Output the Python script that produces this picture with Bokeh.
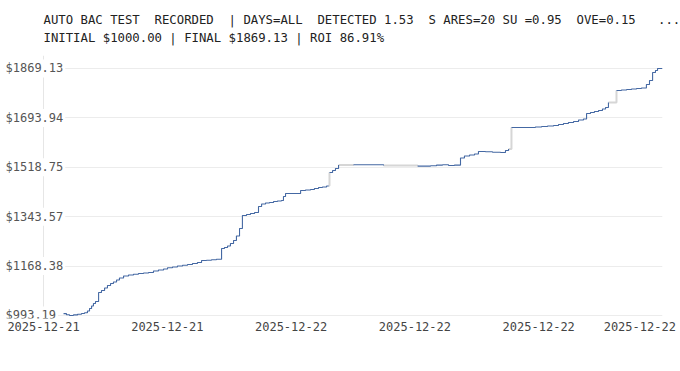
import numpy as np
from bokeh.plotting import figure
from bokeh.models import Range1d, FixedTicker, Title, ColumnDataSource
from bokeh.core.properties import value
from bokeh.embed import file_html
from bokeh.resources import INLINE

title_line1 = "AUTO BAC TEST  RECORDED  | DAYS=ALL  DETECTED 1.53  S ARES=20 SU =0.95  OVE=0.15   ..."
title_line2 = "INITIAL $1000.00 | FINAL $1869.13 | ROI 86.91%"

# hours since 2025-12-21 12:00
hours = [0.97, 1.11, 1.26, 1.45, 1.65, 1.84, 1.99, 2.13, 2.23, 2.33, 2.42, 2.52, 2.67,
         2.81, 2.96, 3.10, 3.25, 3.39, 3.54, 3.68, 3.88, 4.12, 4.36, 4.60, 4.85, 5.09,
         5.33, 5.57, 5.82, 6.01, 6.25, 6.49, 6.74, 6.98, 7.22, 7.46, 7.66, 7.90, 8.14,
         8.38, 8.63, 8.77, 8.92, 9.06, 9.21, 9.35, 9.50, 9.64, 9.84, 10.03, 10.23, 10.42,
         10.57, 10.76, 10.95, 11.15, 11.34, 11.53, 11.63, 11.73, 12.46, 12.70, 12.94,
         13.13, 13.33, 13.52, 13.72, 13.81, 13.86, 14.01, 14.15, 14.30, 15.02, 16.48,
         18.13, 18.76, 19.05, 19.34, 19.63, 19.92, 20.21, 20.40, 20.65, 20.89, 21.08,
         21.42, 21.76, 22.15, 22.39, 22.54, 22.68, 23.84, 24.14, 24.43, 24.72, 24.96,
         25.20, 25.44, 25.69, 25.93, 26.17, 26.32, 26.51, 26.70, 26.90, 27.09, 27.24,
         27.38, 27.77, 28.01, 28.26, 28.50, 28.74, 28.98, 29.22, 29.37, 29.52, 29.66,
         29.76, 30.00]
equity = [1000.00, 996.03, 993.19, 995.32, 997.45, 1000.28, 1003.12, 1009.15, 1018.01,
          1026.88, 1035.75, 1042.84, 1074.75, 1081.85, 1090.72, 1099.58, 1106.67, 1112.00,
          1119.09, 1126.18, 1133.27, 1136.82, 1139.30, 1142.14, 1143.91, 1145.68, 1151.00,
          1154.55, 1158.10, 1162.70, 1165.19, 1168.73, 1171.22, 1174.05, 1177.60, 1181.14,
          1188.24, 1188.95, 1190.72, 1192.49, 1230.79, 1234.34, 1239.66, 1248.52, 1259.16,
          1275.12, 1301.72, 1347.82, 1351.37, 1354.91, 1358.46, 1379.74, 1388.60, 1392.15,
          1393.92, 1397.47, 1399.24, 1401.02, 1415.20, 1425.84, 1436.48, 1438.25, 1440.02,
          1443.57, 1447.12, 1448.89, 1452.44, 1453.15, 1500.31, 1507.40, 1514.50, 1526.91,
          1527.62, 1525.49, 1523.01, 1524.43, 1526.56, 1527.98, 1525.14, 1526.56, 1551.73,
          1558.82, 1562.37, 1565.92, 1574.78, 1573.72, 1571.95, 1571.24, 1578.33, 1583.65,
          1659.89, 1661.66, 1663.44, 1665.21, 1666.99, 1670.53, 1674.08, 1677.63, 1681.17,
          1686.49, 1690.04, 1709.54, 1713.09, 1716.64, 1720.18, 1725.50, 1730.82, 1748.55,
          1791.11, 1792.88, 1794.66, 1796.43, 1798.20, 1799.98, 1812.39, 1826.57, 1854.94,
          1862.03, 1869.13, 1869.13]
# segments (i -> i+1) without recorded samples, drawn in grey
gap_after = [67, 71, 73, 89, 107]

x_tick_hours = [0, 6, 12, 18, 24, 28.9]
x_tick_labels = ["2025-12-21", "2025-12-21", "2025-12-22", "2025-12-22", "2025-12-22", "2025-12-22"]
x_grid_hours = [0, 30]
y_tick_values = [993.19, 1168.38, 1343.57, 1518.75, 1693.94, 1869.13]
y_tick_labels = ["$993.19", "$1168.38", "$1343.57", "$1518.75", "$1693.94", "$1869.13"]

MONO = "DejaVu Sans Mono"
NBSP = "\u00a0"

p = figure(width=680, height=371, output_backend="svg", toolbar_location=None,
           x_range=Range1d(-1.939, 30.0), y_range=Range1d(982.55, 1915.23),
           min_border_left=3, min_border_right=18, min_border_top=55, min_border_bottom=53)
p.outline_line_color = None
p.background_fill_color = "white"
p.border_fill_color = "white"

p.yaxis.visible = False
p.ygrid.ticker = FixedTicker(ticks=y_tick_values)
p.ygrid.grid_line_color = "#ececec"
p.xgrid.ticker = FixedTicker(ticks=x_grid_hours)
p.xgrid.grid_line_color = "#e6e6e6"

ax = p.xaxis[0]
ax.ticker = FixedTicker(ticks=x_tick_hours)
ax.major_label_overrides = {t: l for t, l in zip(x_tick_hours, x_tick_labels)}
ax.axis_line_color = None
ax.major_tick_line_color = None
ax.minor_tick_line_color = None
ax.major_tick_out = 0
ax.major_tick_in = 0
ax.minor_tick_out = 0
ax.major_label_standoff = 3
ax.major_label_text_font = MONO
ax.major_label_text_font_size = "12px"
ax.major_label_text_color = "#444444"

# grey connectors across gaps
for i in gap_after:
    p.step(hours[i:i + 2], equity[i:i + 2], mode="after", line_color="#d6d6d6", line_width=2)

# blue runs
starts = [0] + [g + 1 for g in gap_after]
ends = gap_after + [len(hours) - 1]
for a, b in zip(starts, ends):
    p.step(hours[a:b + 1], equity[a:b + 1], mode="after", line_color="#4468a3", line_width=1.1)

# y tick labels drawn at the left edge of the frame
src = ColumnDataSource(dict(x=[p.x_range.start] * len(y_tick_values), y=y_tick_values, t=y_tick_labels))
p.text(x="x", y="y", text="t", source=src, text_align="left", text_baseline="middle",
       text_font=value(MONO), text_font_size="12px", text_color="#555555",
       background_fill_color="white", padding=2)

p.add_layout(Title(text=title_line2.replace(" ", NBSP), align="left", offset=40, standoff=22,
                   text_font=MONO, text_font_size="12.3px", text_color="#222222",
                   text_font_style="normal"), "above")
p.add_layout(Title(text=title_line1.replace(" ", NBSP), align="left", offset=40, standoff=-18,
                   text_font=MONO, text_font_size="12.3px", text_color="#222222",
                   text_font_style="normal"), "above")

open("out.html", "w").write(file_html(p, INLINE))
